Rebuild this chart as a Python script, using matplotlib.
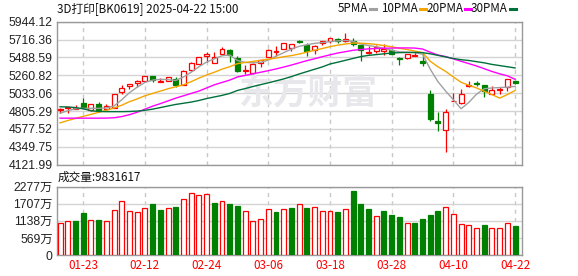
import matplotlib
matplotlib.use('Agg')
import matplotlib.pyplot as plt
from matplotlib.lines import Line2D
import numpy as np

# trading days 2025-01-20 .. 2025-04-22
dates = ['01-20', '01-21', '01-22', '01-23', '01-24', '01-27',
         '02-05', '02-06', '02-07', '02-10', '02-11', '02-12', '02-13', '02-14',
         '02-17', '02-18', '02-19', '02-20', '02-21', '02-24', '02-25', '02-26',
         '02-27', '02-28',
         '03-03', '03-04', '03-05', '03-06', '03-07', '03-10', '03-11', '03-12',
         '03-13', '03-14', '03-17', '03-18', '03-19', '03-20', '03-21', '03-24',
         '03-25', '03-26', '03-27', '03-28', '03-31',
         '04-01', '04-02', '04-03', '04-07', '04-08', '04-09', '04-10', '04-11',
         '04-14', '04-15', '04-16', '04-17', '04-18', '04-21', '04-22']

opens = [4818, 4847, 4835, 4902, 4818, 4898, 4835, 4847, 5046, 5122,
         5164, 5189, 5257, 5178, 5189, 5219, 5134, 5324, 5408, 5510,
         5417, 5531, 5586, 5480, 5316, 5290, 5417, 5493, 5556, 5594,
         5607, 5699, 5649, 5586, 5678, 5704, 5725, 5695, 5704, 5645,
         5548, 5565, 5577, 5586, 5484, 5478, 5512, 5446, 5029, 4675,
         4561, 4932, 4902, 5130, 5164, 5139, 5029, 5071, 5109, 5185]
highs = [4843, 4862, 4877, 4966, 4898, 4919, 4898, 5029, 5143, 5151,
         5206, 5257, 5257, 5223, 5240, 5240, 5324, 5430, 5500, 5556,
         5560, 5619, 5594, 5501, 5396, 5417, 5459, 5594, 5636, 5678,
         5662, 5712, 5678, 5645, 5704, 5733, 5733, 5796, 5733, 5650,
         5636, 5649, 5662, 5602, 5493, 5530, 5556, 5552, 5079, 4793,
         4835, 5037, 5088, 5185, 5193, 5143, 5122, 5109, 5218, 5193]
lows = [4784, 4784, 4826, 4826, 4805, 4814, 4818, 4843, 5029, 5092,
        5109, 5185, 5181, 5175, 5184, 5113, 5134, 5311, 5400, 5425,
        5417, 5531, 5425, 5299, 5282, 5282, 5366, 5490, 5510, 5590,
        5565, 5675, 5510, 5531, 5649, 5678, 5678, 5683, 5640, 5446,
        5535, 5543, 5522, 5527, 5387, 5475, 5501, 5375, 4679, 4552,
        4286, 4928, 4900, 5113, 5122, 4987, 5029, 5029, 5067, 5155]
closes = [4826, 4860, 4847, 4839, 4898, 4818, 4873, 5029, 5105, 5151,
          5193, 5257, 5195, 5190, 5236, 5143, 5316, 5421, 5493, 5527,
          5493, 5594, 5518, 5311, 5333, 5408, 5451, 5586, 5569, 5670,
          5657, 5683, 5577, 5636, 5699, 5733, 5704, 5720, 5657, 5586,
          5560, 5619, 5594, 5531, 5472, 5528, 5522, 5417, 4708, 4658,
          4793, 4940, 5029, 5139, 5155, 5058, 5079, 5084, 5214, 5168]

# volume, in 万
volumes = [1072, 1127, 1127, 1403, 1160, 1171, 1127, 1492, 1790, 1459,
           1425, 1558, 1702, 1503, 1558, 1602, 1856, 2055, 1989, 2022,
           1724, 1812, 1691, 1635, 1459, 1127, 1216, 1525, 1425, 1525,
           1558, 1691, 1558, 1591, 1459, 1459, 1437, 1525, 2133, 1702,
           1525, 1304, 1470, 1348, 1271, 1072, 1072, 1204, 1337, 1470,
           1591, 1370, 1039, 994, 895, 1006, 895, 895, 1072, 983]

ma5 = [4778, 4810, 4835, 4840, 4840, 4840, 4845, 4870, 4950, 5040,
       5110, 5170, 5200, 5210, 5205, 5195, 5240, 5300, 5370, 5430,
       5470, 5510, 5520, 5450, 5425, 5420, 5425, 5455, 5505, 5550,
       5595, 5630, 5650, 5668, 5678, 5690, 5700, 5705, 5693, 5660,
       5640, 5625, 5605, 5580, 5560, 5555, 5550, 5530, 5340, 5180,
       5060, 4950, 4835, 4915, 5020, 5090, 5100, 5105, 5110, 5120]
ma10 = [4655, 4685, 4712, 4738, 4763, 4790, 4815, 4845, 4880, 4925,
        4960, 5000, 5030, 5060, 5090, 5115, 5140, 5180, 5225, 5265,
        5300, 5340, 5370, 5410, 5425, 5438, 5452, 5466, 5480, 5498,
        5512, 5532, 5556, 5580, 5602, 5626, 5645, 5660, 5672, 5670,
        5664, 5655, 5640, 5625, 5605, 5590, 5570, 5550, 5440, 5370,
        5311, 5240, 5172, 5135, 5100, 5058, 5016, 4970, 5016, 5067]
ma20 = [4715, 4715, 4715, 4715, 4715, 4715, 4716, 4720, 4735, 4760,
        4790, 4830, 4868, 4900, 4935, 4970, 5000, 5030, 5060, 5100,
        5140, 5170, 5200, 5240, 5260, 5280, 5300, 5320, 5342, 5366,
        5392, 5420, 5448, 5472, 5498, 5522, 5545, 5562, 5580, 5590,
        5598, 5602, 5606, 5608, 5610, 5610, 5608, 5596, 5555, 5520,
        5500, 5470, 5440, 5410, 5380, 5345, 5310, 5280, 5255, 5210]
ma30 = [4860, 4858, 4850, 4835, 4810, 4800, 4798, 4798, 4798, 4800,
        4805, 4815, 4830, 4850, 4870, 4890, 4905, 4920, 4940, 4965,
        4985, 5005, 5030, 5068, 5092, 5118, 5142, 5165, 5190, 5215,
        5245, 5278, 5308, 5338, 5368, 5405, 5428, 5452, 5476, 5500,
        5515, 5525, 5535, 5545, 5550, 5552, 5553, 5550, 5535, 5515,
        5495, 5475, 5460, 5450, 5435, 5420, 5400, 5385, 5370, 5355]

ma_labels = ['5PMA', '10PMA', '20PMA', '30PMA']
ma_colors = ['#a0a0a0', '#f5a500', '#ff00ff', '#00703c']

price_ticks = [4121.99, 4349.75, 4577.52, 4805.29, 5033.06,
               5260.82, 5488.59, 5716.36, 5944.12]
vol_ticks = [0, 569, 1138, 1707, 2277]
vol_tick_labels = ['0', '569万', '1138万', '1707万', '2277万']
date_tick_idx = [3, 11, 19, 27, 35, 43, 51, 59]

title = '3D打印[BK0619] 2025-04-22 15:00'
vol_title = '成交量:9831617'

RED = '#ff0000'
GREEN = '#008000'
CJK = ['Noto Sans CJK SC', 'DejaVu Sans']
NUM = ['Liberation Sans', 'Noto Sans CJK SC']
W, H = 578, 276

fig = plt.figure(figsize=(W / 100, H / 100), dpi=100)
ax = fig.add_axes([57 / W, 1 - 164.7 / H, 465 / W, 143 / H])
axv = fig.add_axes([57 / W, 1 - 255 / H, 465 / W, 68.3 / H])

x = np.arange(len(dates))
o = np.array(opens, float)
hi = np.array(highs, float)
lo = np.array(lows, float)
c = np.array(closes, float)
v = np.array(volumes, float)
up = c >= o
vol_up = np.r_[True, c[1:] >= c[:-1]]
bw = 0.64

# candles
ax.vlines(x, lo, hi, colors=np.where(up, RED, GREEN), lw=0.9, zorder=3)
bot = np.minimum(o, c)
bh = np.maximum(np.abs(c - o), 1.0)
ax.bar(x[up], bh[up], bw, bottom=bot[up], facecolor='white', edgecolor=RED, lw=0.9, zorder=4)
ax.bar(x[~up], bh[~up], bw, bottom=bot[~up], facecolor=GREEN, edgecolor=GREEN, lw=0.9, zorder=4)

for ma, col in zip([ma5, ma10, ma20, ma30], ma_colors):
    ax.plot(x, ma, color=col, lw=1.0, zorder=5)

# volume
axv.bar(x[vol_up], v[vol_up], bw, facecolor='white', edgecolor=RED, lw=0.9, zorder=3)
axv.bar(x[~vol_up], v[~vol_up], bw, facecolor=GREEN, edgecolor=GREEN, lw=0.9, zorder=3)

for a in (ax, axv):
    a.set_xlim(-0.4, 59.9)
    for s in a.spines.values():
        s.set_color('#999999')
        s.set_linewidth(1)
    a.grid(axis='y', color='#d4d4d4', lw=1, zorder=0)
    for t in date_tick_idx:
        a.axvline(t, color='#c8c8c8', lw=1, ls=(0, (3, 3)), zorder=0)
    a.tick_params(length=0, pad=3)
    a.set_axisbelow(True)

ax.set_ylim(price_ticks[0], price_ticks[-1])
ax.set_yticks(price_ticks)
ax.set_yticklabels(['%.2f' % p for p in price_ticks], fontfamily=NUM, fontsize=8.8, color='#222222')
ax.set_xticks([])

axv.set_ylim(0, vol_ticks[-1])
axv.set_yticks(vol_ticks)
axv.set_yticklabels(vol_tick_labels, fontfamily=NUM, fontsize=8.8, color='#222222')
axv.set_xticks(date_tick_idx)
axv.set_xticklabels([dates[i] for i in date_tick_idx], fontfamily=CJK, fontsize=8.4, color=RED)

# watermark
ax.text(0.54, 0.5, '东方财富', transform=ax.transAxes, ha='center', va='center',
        fontsize=25, fontweight='bold', family=CJK, color='#e8e8ec', zorder=1)

fig.text(57 / W, 1 - 9 / H, title, family=CJK, fontsize=8.4, va='center', color='#111111')
fig.text(58 / W, 1 - 177 / H, vol_title, family=CJK, fontsize=8.4, va='center', color='#111111')

# legend
leg_x = [338, 381, 426, 471]
for lab, col, lx in zip(ma_labels, ma_colors, leg_x):
    t = fig.text(lx / W, 1 - 9 / H, lab, family=CJK, fontsize=8.4, va='center', color='#111111')
    fig.canvas.draw()
    bb = t.get_window_extent()
    x0 = bb.x1 + 2
    fig.add_artist(Line2D([x0 / W, (x0 + 6) / W], [1 - 9 / H, 1 - 9 / H],
                          transform=fig.transFigure, color=col, lw=2.2))

fig.savefig('out.png', dpi=100)
